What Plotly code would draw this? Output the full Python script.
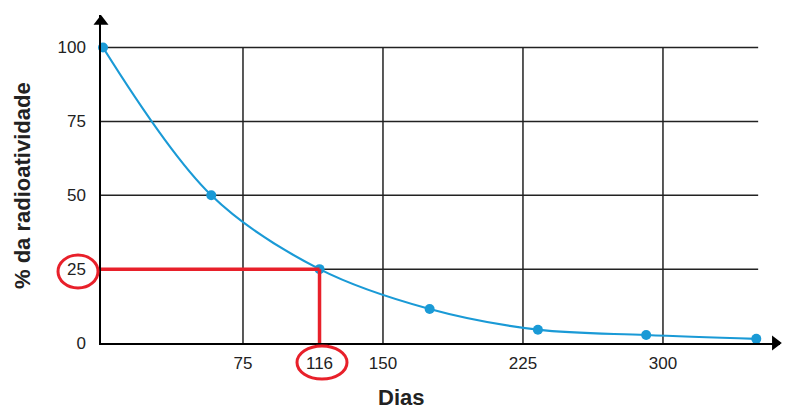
import plotly.graph_objects as go

# ---- data ----
dias = [0, 58, 116, 175, 233, 291, 350]
radioatividade = [100, 50, 25, 11.5, 4.5, 2.7, 1.4]
x_ticks = [75, 116, 150, 225, 300]
y_ticks = [0, 25, 50, 75, 100]
x_grid = [75, 150, 225, 300]
y_grid = [25, 50, 75, 100]
marca_dia = 116
marca_pct = 25

W, H = 787, 410
L, R, T, B = 101, 7, 15, 67
pw, ph = W - L - R, H - T - B
XR = [-1.07, 362.7]
YR = [0, 111]
grid_end = 351

def px(xp):
    return (xp - L) / pw

def py(yp):
    return (H - B - yp) / ph

font = "Liberation Sans, Arial, sans-serif"
ink = "#222222"
red = "#e8202a"
blue = "#1a9ad6"

fig = go.Figure()

shapes = []
for g in y_grid:
    shapes.append(dict(type="line", xref="x", yref="y", x0=XR[0], x1=grid_end, y0=g, y1=g,
                       line=dict(color=ink, width=1.5), layer="below"))
for g in x_grid:
    shapes.append(dict(type="line", xref="x", yref="y", x0=g, x1=g, y0=0, y1=max(y_grid),
                       line=dict(color=ink, width=1.5), layer="below"))
# red guide lines
shapes.append(dict(type="line", xref="x", yref="y", x0=XR[0], x1=marca_dia, y0=marca_pct, y1=marca_pct,
                   line=dict(color=red, width=3.5)))
shapes.append(dict(type="line", xref="x", yref="y", x0=marca_dia, x1=marca_dia, y0=marca_pct, y1=0,
                   line=dict(color=red, width=3.5)))
# red ellipses around labels
shapes.append(dict(type="circle", xref="paper", yref="paper",
                   x0=px(58), x1=px(98), y0=py(288), y1=py(255),
                   line=dict(color=red, width=3)))
shapes.append(dict(type="circle", xref="paper", yref="paper",
                   x0=px(297), x1=px(347), y0=py(379), y1=py(346),
                   line=dict(color=red, width=3)))

fig.add_trace(go.Scatter(
    x=dias, y=radioatividade, mode="lines+markers",
    line=dict(color=blue, width=2.2, shape="spline", smoothing=1.0),
    marker=dict(color=blue, size=10),
    cliponaxis=False, showlegend=False, hoverinfo="skip"))

# arrow heads on axes
fig.add_trace(go.Scatter(
    x=[XR[0]], y=[YR[1] - 2.2], mode="markers",
    marker=dict(symbol="triangle-up", size=13, color="black"),
    cliponaxis=False, showlegend=False, hoverinfo="skip"))
fig.add_trace(go.Scatter(
    x=[XR[1] - 2.5], y=[0], mode="markers",
    marker=dict(symbol="triangle-right", size=13, color="black"),
    cliponaxis=False, showlegend=False, hoverinfo="skip"))

fig.update_layout(
    width=W, height=H,
    margin=dict(l=L, r=R, t=T, b=B, autoexpand=False),
    paper_bgcolor="white", plot_bgcolor="white",
    font=dict(family=font, size=17, color=ink),
    shapes=shapes,
    xaxis=dict(range=XR, tickvals=x_ticks, ticktext=[str(v) for v in x_ticks],
               showgrid=False, zeroline=False, showline=True, linecolor="black", linewidth=1.5,
               ticks="outside", ticklen=4, tickcolor="rgba(0,0,0,0)", automargin=False,
               tickfont=dict(size=17, color=ink, family=font)),
    yaxis=dict(range=YR, tickvals=y_ticks, ticktext=[str(v) for v in y_ticks],
               showgrid=False, zeroline=False, showline=True, linecolor="black", linewidth=1.5,
               ticks="outside", ticklen=10, tickcolor="rgba(0,0,0,0)", automargin=False,
               tickfont=dict(size=17, color=ink, family=font)),
    annotations=[
        dict(text="<b>Dias</b>", xref="paper", yref="paper", x=px(401), y=py(397),
             showarrow=False, font=dict(size=22, color=ink, family=font),
             xanchor="center", yanchor="middle"),
        dict(text="<b>% da radioatividade</b>", xref="paper", yref="paper", x=px(22), y=py(186),
             showarrow=False, textangle=-90, font=dict(size=22, color=ink, family=font),
             xanchor="center", yanchor="middle"),
    ],
)

fig.write_html("out.html", config={"displayModeBar": False},
               post_script="document.body.style.margin='0';")
